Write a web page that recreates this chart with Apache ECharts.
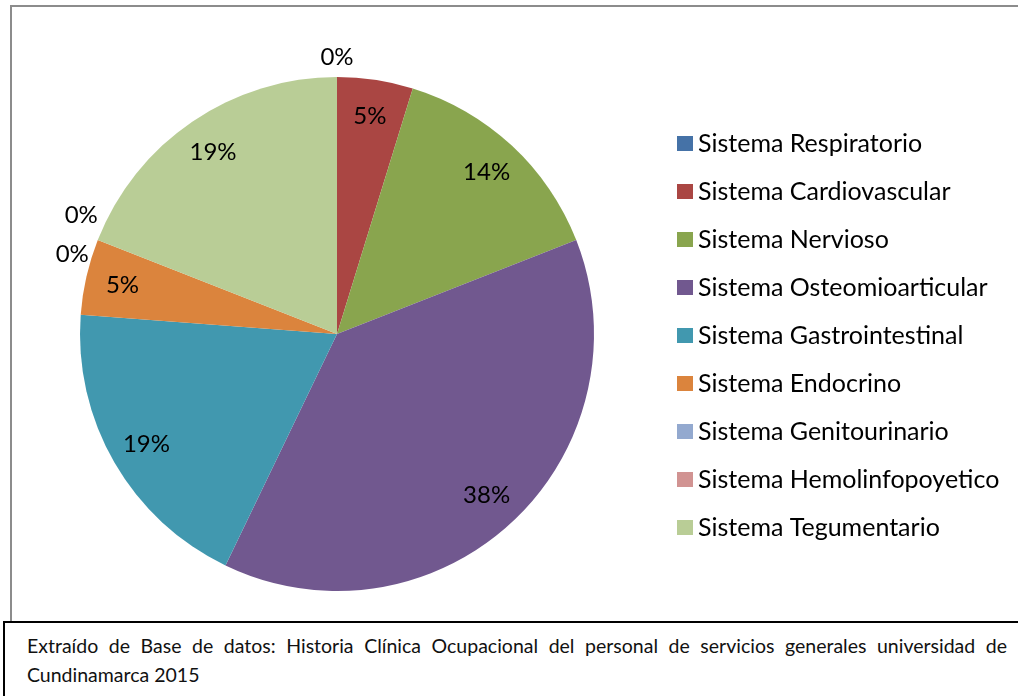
<!DOCTYPE html>
<html>
<head>
<meta charset="utf-8">
<script src="https://cdn.jsdelivr.net/npm/echarts@6/dist/echarts.min.js"></script>
<style>
  html, body { margin: 0; padding: 0; overflow: hidden; background: #fff; width: 1018px; height: 696px; }
  #chart { position: absolute; left: 0; top: 0; width: 1018px; height: 696px; }
  #frame { position: absolute; left: 10px; top: 5px; width: 1300px; height: 800px; border: 2px solid #8c8c8c; pointer-events: none; box-sizing: border-box; }
  #caption { position: absolute; left: 3px; top: 621px; width: 1300px; height: 200px; border: 2px solid #000; background: #fff; box-sizing: border-box; }
  .cap { position: absolute; left: 22px; width: 980px; font-family: Lato, "Open Sans", sans-serif; font-size: 19.5px; color: #111; white-space: nowrap; }
  #l1 { top: 11px; text-align: justify; text-align-last: justify; white-space: normal; }
  #l2 { top: 40px; }
</style>
</head>
<body>
<div id="chart"></div>
<div id="frame"></div>
<div id="caption">
  <div class="cap" id="l1">Extraído de Base de datos: Historia Clínica Ocupacional del personal de servicios generales universidad de</div>
  <div class="cap" id="l2">Cundinamarca 2015</div>
</div>
<script>
const categories = [
  'Sistema Respiratorio',
  'Sistema Cardiovascular',
  'Sistema Nervioso',
  'Sistema Osteomioarticular',
  'Sistema Gastrointestinal',
  'Sistema Endocrino',
  'Sistema Genitourinario',
  'Sistema Hemolinfopoyetico',
  'Sistema Tegumentario'
];
const counts = [0, 1, 3, 8, 4, 1, 0, 0, 4];
const colors = ['#4572A7', '#AA4643', '#89A54E', '#71588F', '#4198AF', '#DB843D', '#93A9CF', '#D19392', '#B9CD96'];

// label nudges for the zero-value slices so they sit outside the pie, like the original
const zeroLabelShift = {
  0: [0, -57],
  6: [-51, -38],
  7: [-60, 1]
};

const FONT = 'Lato';
const CX = 337, CY = 334, R = 257;

const chart = echarts.init(document.getElementById('chart'), null, { renderer: 'canvas' });

const pieData = categories.map((name, i) => ({ name, value: counts[i] }));

chart.setOption({
  animation: false,
  color: colors,
  legend: {
    orient: 'vertical',
    left: 677,
    top: 131,
    padding: 0,
    itemWidth: 16,
    itemHeight: 15,
    itemGap: 23,
    icon: 'rect',
    selectedMode: false,
    data: categories,
    textStyle: { fontFamily: FONT, fontSize: 25, color: '#000', lineHeight: 24 }
  },
  series: [
    {
      type: 'pie',
      center: [CX, CY],
      radius: R,
      startAngle: 90,
      clockwise: true,
      data: pieData,
      label: { show: false },
      labelLine: { show: false },
      itemStyle: { borderWidth: 0 },
      emphasis: { disabled: true }
    },
    {
      type: 'pie',
      center: [CX, CY],
      radius: 434,
      startAngle: 90,
      clockwise: true,
      silent: true,
      data: pieData,
      itemStyle: { color: 'rgba(0,0,0,0)', borderWidth: 0 },
      labelLine: { show: false },
      label: {
        show: true,
        position: 'inside',
        fontFamily: FONT,
        fontSize: 24,
        color: '#000',
        formatter: p => Math.round(p.percent) + '%'
      },
      labelLayout: function (params) {
        const s = zeroLabelShift[params.dataIndex];
        return s ? { dx: s[0], dy: s[1] } : {};
      },
      emphasis: { disabled: true }
    }
  ]
});
</script>
</body>
</html>
